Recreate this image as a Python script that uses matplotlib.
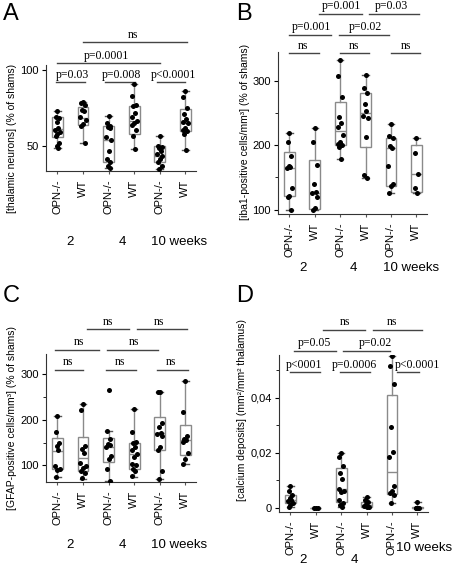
import numpy as np
import matplotlib
matplotlib.use('Agg')
import matplotlib.pyplot as plt
from matplotlib.ticker import MultipleLocator, FuncFormatter

W, H = 475, 565
SANS = 'Liberation Sans'
SERIF = 'Liberation Serif'

groups = ['OPN-/-', 'WT', 'OPN-/-', 'WT', 'OPN-/-', 'WT']
weeks = ['2', '4', '10 weeks']

# A: thalamic neurons (% of shams)
a_points = [
    [73, 69, 68.5, 66, 62, 61, 59.5, 58, 56.5, 52, 50, 49],
    [79, 78, 77, 74, 73, 69, 67.5, 64.5, 63.5, 52],
    [70, 65, 63.5, 62.5, 62, 56, 54, 47, 42, 40, 37, 36],
    [90.5, 83, 77, 76, 72, 69, 66.5, 65.5, 64, 61, 56.5, 48.5],
    [57, 50, 49.5, 49, 47, 45, 44, 42, 40, 37, 35.5],
    [86, 82, 75, 71, 68, 66, 65.5, 62, 61, 60, 58, 47.5],
]
a_q1 = [56, 64, 40, 58, 40, 60]
a_med = [61.5, 68.5, 54, 66.5, 44, 65.5]
a_q3 = [69, 75.5, 63, 76, 50, 74.5]
a_lo = [49, 52, 36, 48.5, 35.5, 47.5]
a_hi = [73, 79, 70, 90.5, 57, 86]

# B: iba1-positive cells
b_points = [
    [219, 205, 184, 168, 166, 164, 134, 121, 120, 100],
    [227, 205, 169, 140, 127, 125, 120, 102, 100],
    [333, 307, 275, 244, 235, 228, 216, 205, 202, 200, 198, 178],
    [309, 289, 282, 264, 254, 246, 242, 213, 153, 149],
    [233, 214, 212, 199, 195, 167, 140, 136, 125],
    [212, 188, 156, 133, 125],
]
b_q1 = [121, 100.5, 200, 197, 136, 127]
b_med = [164, 126, 222, 250, 195, 156]
b_q3 = [189, 177, 267, 282, 211, 200]
b_lo = [100, 100, 178, 149, 125, 125]
b_hi = [219, 227, 333, 309, 233, 212]

# C: GFAP-positive cells
c_points = [
    [208, 173, 150, 142, 134, 98, 93, 91, 74],
    [234, 221, 142, 135, 128, 105, 98, 95, 88, 84, 72],
    [265, 175, 157, 147, 145, 141, 120, 115, 92, 67],
    [223, 173, 151, 149, 141, 134, 125, 118, 103, 100, 92, 89, 76],
    [261, 260, 192, 183, 171, 168, 165, 141, 133, 88, 70],
    [284, 216, 164, 158, 155, 152, 128, 115, 103],
]
c_q1 = [93, 87, 108, 93, 133, 123]
c_med = [132, 117, 140, 125, 170, 155]
c_q3 = [160, 161, 160, 150, 206, 189]
c_lo = [74, 70, 67, 75, 70, 103]
c_hi = [208, 234, 175, 223, 261, 284]

# D: calcium deposits
d_points = [
    [0.0079, 0.006, 0.0045, 0.0036, 0.003, 0.0024, 0.0018, 0.001, 0.0004],
    [0, 0, 0],
    [0.020, 0.0185, 0.0152, 0.0126, 0.0105, 0.0069, 0.0063, 0.0057, 0.0027, 0.0019, 0.001, 0.0004],
    [0.0038, 0.0027, 0.0021, 0.0013, 0.0008, 0.0005, 0.0004, 0.0002],
    [0.055, 0.0516, 0.045, 0.0293, 0.0202, 0.0186, 0.0081, 0.0063, 0.0055, 0.0045, 0.0018],
    [0.0021, 0, 0, 0, 0],
]
d_q1 = [0.0017, 0, 0.0021, 0.0003, 0.0049, 0]
d_med = [0.003, 0, 0.0067, 0.0009, 0.0131, 0]
d_q3 = [0.0045, 0, 0.0146, 0.0021, 0.0408, 0.0003]
d_lo = [0.0003, 0, 0.0002, 0.0002, 0.0018, 0]
d_hi = [0.0079, 0, 0.020, 0.0038, 0.055, 0.0021]

# significance brackets: (x start, x end, y, text, text x)
a_sig = [(-0.05, 1.07, 91.7, 'p=0.03', 0.58), (1.86, 3.04, 91.7, 'p=0.008', 2.52),
         (3.9, 5.0, 91.7, 'p<0.0001', 4.55), (0, 4.03, 104, 'p=0.0001', 1.9),
         (1, 5.06, 117.8, 'ns', 2.97)]
b_sig = [(0, 1.15, 343, 'ns', 0.55), (2.0, 3.15, 343, 'ns', 2.55), (4.0, 5.15, 343, 'ns', 4.6),
         (0, 1.65, 372, 'p=0.001', 0.87), (1.97, 3.94, 372, 'p=0.02', 3.0),
         (1.18, 2.87, 404, 'p=0.001', 2.05), (3.15, 5.12, 404, 'p=0.03', 4.0)]
c_sig = [(-0.08, 1.0, 308, 'ns', 0.4), (1.88, 3.08, 308, 'ns', 2.45), (3.88, 5.12, 308, 'ns', 4.45),
         (-0.08, 1.64, 352, 'ns', 0.85), (1.92, 3.92, 352, 'ns', 3.0),
         (1.16, 2.8, 397, 'ns', 1.96), (3.12, 5.08, 397, 'ns', 3.96)]
d_sig = [(0, 1.15, 0.0492, 'p<0001', 0.55), (1.97, 3.15, 0.0492, 'p=0.0006', 2.52),
         (4.2, 5.05, 0.0492, 'p<0.0001', 5.0),
         (0.15, 1.8, 0.057, 'p=0.05', 0.95), (2.08, 3.94, 0.057, 'p=0.02', 3.35),
         (1.3, 2.95, 0.0646, 'ns', 2.15), (3.27, 5.2, 0.0646, 'ns', 4.0)]

JITTER = [0.0, -0.07, 0.07, -0.035, 0.035, -0.1, 0.1]


def add_axes_px(fig, left, top, right, bottom):
    """Axes placed from pixel edges (origin top-left)"""
    return fig.add_axes([left / W, 1 - bottom / H, (right - left) / W, (bottom - top) / H])


def draw_panel(ax, points, q1, med, q3, lo, hi, sig, ylim, ticks, minor, fmt=None):
    stats = [dict(q1=q1[i], med=med[i], q3=q3[i], whislo=lo[i], whishi=hi[i])
             for i in range(len(groups))]
    grey = '#8a8a8a'
    ax.bxp(stats, positions=range(len(groups)), widths=0.42, showfliers=False,
           capwidths=0.26, patch_artist=True,
           boxprops=dict(facecolor='white', edgecolor=grey, linewidth=1),
           medianprops=dict(color=grey, linewidth=1),
           whiskerprops=dict(color=grey, linewidth=1),
           capprops=dict(color='#555555', linewidth=1))

    for i, vals in enumerate(points):
        xs = [i + JITTER[k % len(JITTER)] for k in range(len(vals))]
        ax.scatter(xs, vals, s=13, color='black', zorder=3, linewidths=0)

    for x0, x1, y, label, tx in sig:
        ax.plot([x0, x1], [y, y], color='#444444', linewidth=1, clip_on=False)
        ax.annotate(label, (tx, y), xytext=(0, 1.2), textcoords='offset points',
                    ha='center', va='bottom', fontsize=8.5, family=SERIF,
                    annotation_clip=False)

    ax.set_xlim(-0.45, 5.42)
    ax.set_ylim(*ylim)
    ax.set_yticks(ticks)
    if minor:
        ax.yaxis.set_minor_locator(MultipleLocator(minor))
    if fmt:
        ax.yaxis.set_major_formatter(FuncFormatter(fmt))
    ax.set_xticks(range(len(groups)))
    ax.set_xticklabels(groups, rotation=90, fontsize=8, family=SANS)
    ax.tick_params(axis='x', length=2, pad=4, color='#555555')
    ax.tick_params(axis='y', which='major', length=3, labelsize=8, pad=2)
    ax.tick_params(axis='y', which='minor', length=2)
    for lab in ax.get_yticklabels():
        lab.set_family(SANS)
    for side in ('top', 'right'):
        ax.spines[side].set_visible(False)
    for side in ('left', 'bottom'):
        ax.spines[side].set_color('#333333')


def week_labels(ax, height_px, offsets, xs):
    trans = ax.get_xaxis_transform()
    for label, off, x in zip(weeks, offsets, xs):
        ax.text(x, -off / height_px, label, transform=trans, ha='center', va='center',
                fontsize=9.5, family=SANS)


fig = plt.figure(figsize=(W / 100, H / 100), dpi=100)

ax_a = add_axes_px(fig, 46, 65, 196, 171)
draw_panel(ax_a, a_points, a_q1, a_med, a_q3, a_lo, a_hi, a_sig, (34, 103), [50, 100], None)
week_labels(ax_a, 106, [71, 71, 71], [0.47, 2.53, 4.74])

ax_b = add_axes_px(fig, 278, 52, 427, 214)
draw_panel(ax_b, b_points, b_q1, b_med, b_q3, b_lo, b_hi, b_sig, (93, 345), [100, 200, 300], 50)
week_labels(ax_b, 162, [54, 54, 54], [0.55, 2.5, 4.8])

ax_c = add_axes_px(fig, 46, 354, 196, 482)
draw_panel(ax_c, c_points, c_q1, c_med, c_q3, c_lo, c_hi, c_sig, (64, 343), [100, 200, 300], 50)
week_labels(ax_c, 128, [63, 63, 63], [0.47, 2.53, 4.74])

ax_d = add_axes_px(fig, 279, 355, 428, 512)
draw_panel(ax_d, d_points, d_q1, d_med, d_q3, d_lo, d_hi, d_sig, (-0.0015, 0.0555),
           [0, 0.02, 0.04], 0.01, fmt=lambda v, p: '0' if v == 0 else f'{v:.2f}'.replace('.', ','))
week_labels(ax_d, 157, [48, 48, 36], [0.5, 2.5, 5.25])

# y labels
ylabels = [
    (12, 138, '[thalamic neurons] (% of shams)'),
    (245, 132, '[iba1-positive cells/mm\u00b3] (% of shams)'),
    (12, 418, '[GFAP-positive cells/mm\u00b3] (% of shams)'),
    (242, 410, '[calcium deposits] (mm\u00b2/mm\u00b2 thalamus)'),
]
for x, y, text in ylabels:
    fig.text(x / W, 1 - y / H, text, rotation=90, ha='center', va='center',
             fontsize=7.5, family=SANS)

for x, y, letter in [(3, 3, 'A'), (236, 3, 'B'), (3, 285, 'C'), (236, 285, 'D')]:
    fig.text(x / W, 1 - y / H, letter, ha='left', va='top', fontsize=17, family=SANS)

fig.savefig('out.png', dpi=100)
